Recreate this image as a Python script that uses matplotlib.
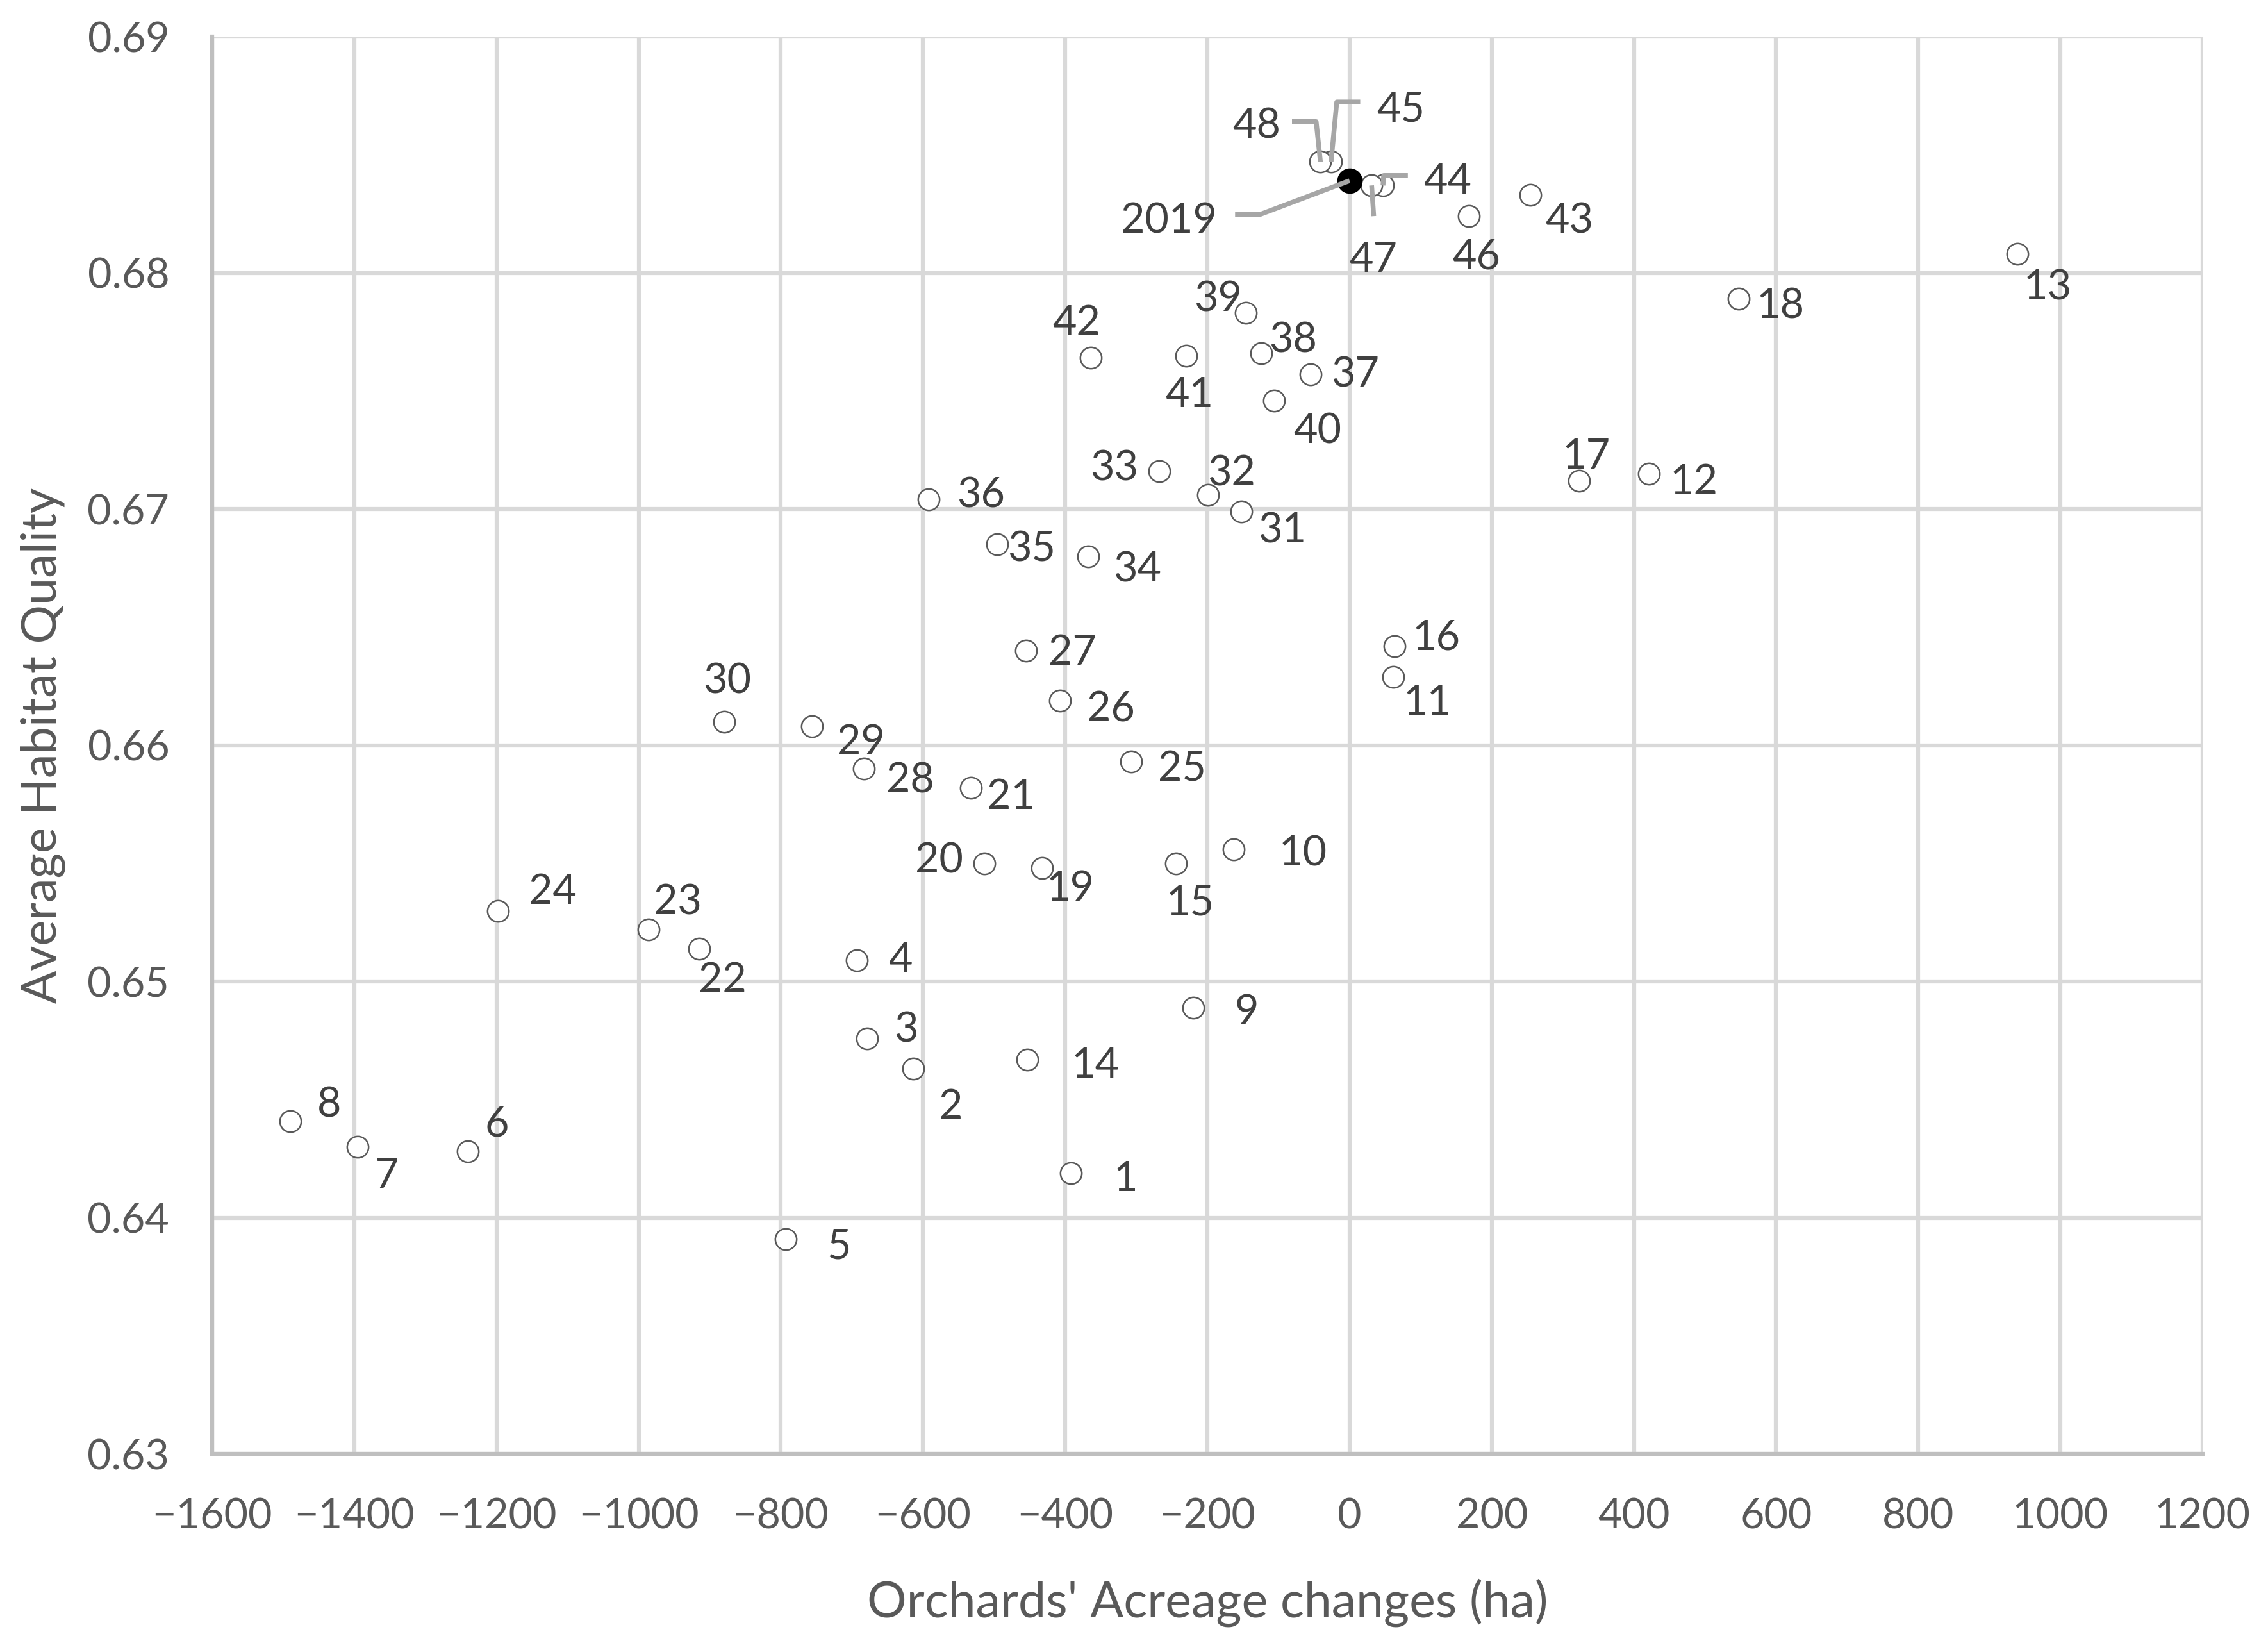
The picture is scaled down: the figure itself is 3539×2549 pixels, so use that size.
import matplotlib
matplotlib.use("Agg")
import matplotlib.pyplot as plt

plt.rcParams['font.family'] = ['Lato', 'DejaVu Sans']

# year-by-year points (label, acreage change, habitat quality)
labels = [str(i) for i in range(1, 49)]
acreage = [-392, -614, -679, -693, -793, -1240, -1395, -1490, -220, -163,
           61, 421, 939, -453, -244, 63, 323, 547, -433, -514,
           -533, -915, -986, -1198, -307, -407, -455, -683, -756, -880,
           -152, -199, -268, -368, -496, -592, -55, -124, -146, -106,
           -230, -364, 254, 47, -26, 168, 31, -41]
quality = [0.6419, 0.6463, 0.6476, 0.6509, 0.6391, 0.6428, 0.6430, 0.6441, 0.6489, 0.6556,
           0.6629, 0.6715, 0.6808, 0.6467, 0.6550, 0.6642, 0.6712, 0.6789, 0.6548, 0.6550,
           0.6582, 0.6514, 0.6522, 0.6530, 0.6593, 0.6619, 0.6640, 0.6590, 0.6608, 0.6610,
           0.6699, 0.6706, 0.6716, 0.6680, 0.6685, 0.6704, 0.6757, 0.6766, 0.6783, 0.6746,
           0.6765, 0.6764, 0.6833, 0.6837, 0.6847, 0.6824, 0.6837, 0.6847]
base_label = "2019"
base_x = 0
base_y = 0.6839

# label offsets in points (dx, dy); None -> label with leader line
offsets = [(20.6, -0.5), (14.1, -12.5), (14.6, 4.9), (16.3, 1.6), (20, -1.1),
           (10.8, 11.9), (10.8, -9.2), (14.6, 7.6), (20, 0), (26, 0),
           (13, -8.1), (16.8, -1.6), (11.4, -10.8), (25.5, -0.5), (5.4, -13),
           (15.7, 4.9), (2.7, 10.8), (15.7, -1.1), (10.8, -6), (-16.8, 2.7),
           (15.2, -1.6), (8.7, -10.3), (10.8, 11.9), (20.6, 8.7), (19, -1.1),
           (19, -1.6), (17.3, 1.1), (17.3, -2.7), (18.4, -4.3), (1.1, 16.8),
           (15.2, -5.4), (8.7, 9.8), (-16.8, 2.7), (18.4, -3.3), (13, 0),
           (19.5, 3.3), (16.8, 1.6), (11.9, 6.5), (-10.3, 7), (16.3, -9.8),
           (1.1, -13), (-5.4, 14.6), (14.6, -8.1), None, None,
           (2.7, -13.5), None, None]
text_drop = 1.8  # Lato sits a bit high compared to Calibri

# leader-line labels: text position and elbow path (data units)
leaders = {
    "48": ((-131, 0.6864), [(-81, 0.6864), (-47, 0.6864)]),
    "45": ((72, 0.6871), [(15, 0.68723), (-18, 0.68723)]),
    "44": ((138, 0.68405), [(82, 0.68412), (48, 0.68412)]),
    "47": ((33, 0.68075), [(34, 0.6824)]),
    "2019": ((-254, 0.6824), [(-161, 0.68247), (-126, 0.68247)]),
}

label_color = '#404040'
tick_color = '#595959'
leader_color = '#A6A6A6'

fig = plt.figure(figsize=(3539 / 300, 2549 / 300), dpi=300)
ax = fig.add_axes([0.0935, 0.1102, 0.8777, 0.8674])

ax.plot(acreage, quality, linestyle='none', marker='o', markersize=8,
        markerfacecolor='white', markeredgecolor='#595959', markeredgewidth=0.6, zorder=3)
ax.plot([base_x], [base_y], linestyle='none', marker='o', markersize=8.5,
        markerfacecolor='black', markeredgecolor='black', zorder=4)

for lab, x, y, off in zip(labels, acreage, quality, offsets):
    if off is None:
        continue
    ax.annotate(lab, (x, y), xytext=(off[0], off[1] - text_drop), textcoords='offset points',
                ha='center', va='center', fontsize=15.5, color=label_color, zorder=5)

# leader lines
points = dict(zip(labels, zip(acreage, quality)))
points[base_label] = (base_x, base_y)
for lab, (tpos, path) in leaders.items():
    px, py = points[lab]
    xs = [p[0] for p in path] + [px]
    ys = [p[1] for p in path] + [py]
    ax.plot(xs, ys, color=leader_color, linewidth=1.8, zorder=4.5, solid_capstyle='butt')
    ax.annotate(lab, tpos, xytext=(0, -text_drop), textcoords='offset points',
                ha='center', va='center', fontsize=15.5, color=label_color, zorder=5)

ax.set_xlim(-1600, 1200)
ax.set_ylim(0.63, 0.69)
ax.set_xticks(range(-1600, 1201, 200))
ax.set_yticks([0.63, 0.64, 0.65, 0.66, 0.67, 0.68, 0.69])
ax.set_yticklabels(['0.63', '0.64', '0.65', '0.66', '0.67', '0.68', '0.69'])

ax.grid(True, color='#D9D9D9', linewidth=1.5)
ax.set_axisbelow(True)
for s in ['top', 'right']:
    ax.spines[s].set_visible(False)
for s in ['left', 'bottom']:
    ax.spines[s].set_color('#BFBFBF')
    ax.spines[s].set_linewidth(1.5)

ax.tick_params(length=0, labelsize=15.5, labelcolor=tick_color)
ax.tick_params(axis='y', pad=16)
ax.tick_params(axis='x', pad=16.5)

ax.set_xlabel("Orchards' Acreage changes (ha)", fontsize=18.5, color=tick_color, labelpad=16)
ax.set_ylabel("Average Habitat Quality", fontsize=18.2, color=tick_color, labelpad=8)

fig.savefig("out.png", dpi=300)
